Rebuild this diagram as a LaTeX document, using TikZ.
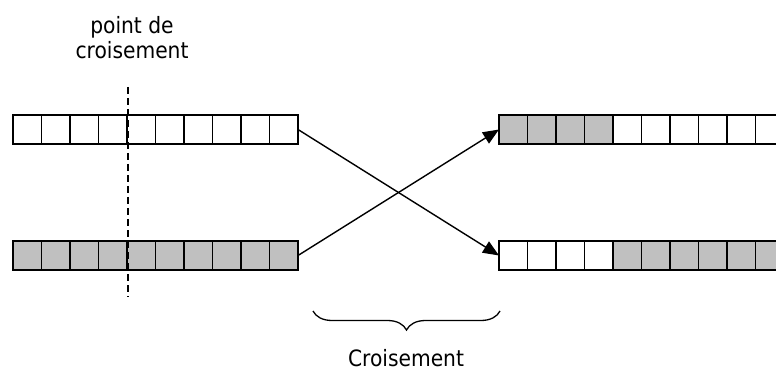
\documentclass[tikz,border=0pt]{standalone}
\usepackage{fontspec}
\setmainfont{DejaVu Sans Condensed}
\usetikzlibrary{arrows.meta,decorations.pathreplacing}
\definecolor{cellgray}{HTML}{C0C0C0}
\tikzset{
  cell/.style={draw=black, line width=1.8pt, minimum width=28.5pt, minimum height=28.5pt, inner sep=0pt, outer sep=0pt},
  graycell/.style={cell, fill=cellgray},
  whitecell/.style={cell, fill=white},
  conn/.style={line width=1.4pt, -{Triangle[length=16pt,width=13pt]}},
  lbl/.style={font=\fontsize{22.5}{25}\selectfont, align=center, inner sep=0pt}
}
\begin{document}
\begin{tikzpicture}[x=1pt,y=-1pt]
\clip (0,0) rectangle (776,374);
\fill[white] (0,0) rectangle (776,374);
% left top: all white
\foreach \i in {1,...,10} {
  \node[whitecell] (a\i) at ({13+28.5*(\i-0.5)},129.5) {};
}
% left bottom: all gray
\foreach \i in {1,...,10} {
  \node[graycell] (b\i) at ({13+28.5*(\i-0.5)},255.5) {};
}
% right top: 4 gray then white
\foreach \i in {1,...,10} {
  \ifnum\i<5
    \node[graycell] (c\i) at ({499+28.5*(\i-0.5)},129.5) {};
  \else
    \node[whitecell] (c\i) at ({499+28.5*(\i-0.5)},129.5) {};
  \fi
}
% right bottom: 4 white then gray
\foreach \i in {1,...,10} {
  \ifnum\i<5
    \node[whitecell] (d\i) at ({499+28.5*(\i-0.5)},255.5) {};
  \else
    \node[graycell] (d\i) at ({499+28.5*(\i-0.5)},255.5) {};
  \fi
}
% dashed crossover line
\coordinate (dtop) at (128,87);
\coordinate (dbot) at (128,297);
\draw[line width=1.6pt, dash pattern=on 7pt off 4pt] (dtop) -- (dbot);
% labels
\node[lbl] (pc) at (132,38) {point de\\croisement};
% connectors
\draw[conn] (a10.east) -- (d1.west);
\draw[conn] (b10.east) -- (c1.west);
% brace
\coordinate (bl) at (313,311);
\coordinate (br) at (500,311);
\draw[line width=1.3pt, decorate, decoration={brace, amplitude=19pt, mirror}] (bl) -- (br);
\node[lbl] (cr) at (406,358) {Croisement};
\end{tikzpicture}
\end{document}
